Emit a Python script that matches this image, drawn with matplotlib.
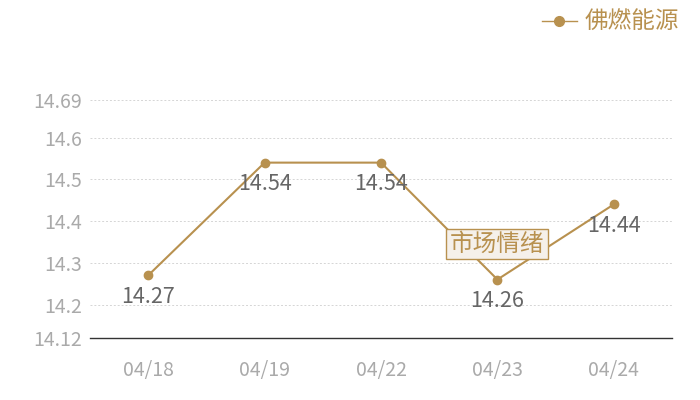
import matplotlib.pyplot as plt
from matplotlib.lines import Line2D

plt.rcParams['font.family'] = ['Noto Sans CJK SC', 'DejaVu Sans']

dates = ['04/18', '04/19', '04/22', '04/23', '04/24']
prices = [14.27, 14.54, 14.54, 14.26, 14.44]
yticks = [14.12, 14.2, 14.3, 14.4, 14.5, 14.6, 14.69]
series_name = '佛燃能源'
note_text = '市场情绪'
note_idx = 3

gold = '#b8914f'

fig = plt.figure(figsize=(7, 4), dpi=100)
ax = fig.add_axes([0.1286, 0.155, 0.8314, 0.595])

x = list(range(len(dates)))
ax.plot(x, prices, color=gold, linewidth=1.5, marker='o', markersize=6, zorder=3)

for i, v in zip(x, prices):
    ax.annotate(f'{v:.2f}', (i, v), xytext=(0, -7.5), textcoords='offset points',
                ha='center', va='top', fontsize=15.5, color='#666666', zorder=4)

# market sentiment tag
ax.text(note_idx, prices[note_idx] + 0.085, note_text, ha='center', va='center',
        fontsize=17, color=gold, zorder=5,
        bbox=dict(boxstyle='square,pad=0.16', facecolor='#f5f0ea', edgecolor=gold, linewidth=1))

ax.set_xlim(-0.5, len(dates) - 0.5)
ax.set_ylim(yticks[0], yticks[-1])
ax.set_xticks(x)
ax.set_xticklabels(dates)
ax.set_yticks(yticks)
ax.set_yticklabels([f'{t:g}' for t in yticks])
ax.tick_params(axis='both', length=0, labelsize=14, colors='#aaaaaa')
ax.tick_params(axis='x', pad=16)
ax.tick_params(axis='y', pad=6)

ax.grid(axis='y', linestyle=(0, (2, 2)), color='#d5d5d5', linewidth=0.7)
for s in ['top', 'right', 'left']:
    ax.spines[s].set_visible(False)
ax.spines['bottom'].set_color('#333333')
ax.spines['bottom'].set_linewidth(1)

handle = Line2D([], [], color=gold, marker='o', markersize=7, linewidth=1)
fig.legend([handle], [series_name], loc='upper right', bbox_to_anchor=(1.0, 1.026),
           frameon=False, fontsize=17, labelcolor=gold, handlelength=1.5, handletextpad=0.3)

fig.savefig('out.png')
